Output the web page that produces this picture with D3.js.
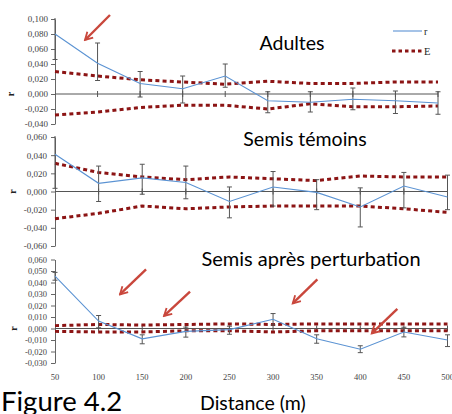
<!DOCTYPE html>
<html>
<head>
<meta charset="utf-8">
<script src="https://cdn.jsdelivr.net/npm/d3@7"></script>
<style>
  html, body { margin: 0; padding: 0; background: #fff; }
  svg { display: block; }
  .tick text { font-family: "Liberation Serif", "Times New Roman", serif; fill: #444; }
  .title { font-family: Lato, "Open Sans", sans-serif; fill: #000; }
</style>
</head>
<body>
<svg id="chart" width="452" height="414"></svg>
<script>
// Distance classes (m)
const distances = [50, 100, 150, 200, 250, 300, 350, 400, 450, 500];

// Adultes
const adultesR      = [0.080, 0.041, 0.014, 0.007, 0.024, -0.009, -0.011, -0.007, -0.009, -0.012];
const adultesBarLo  = [0.046, 0.018, -0.004, -0.012, 0.009, -0.025, -0.024, -0.021, -0.026, -0.027];
const adultesBarHi  = [0.114, 0.068, 0.030, 0.024, 0.040, 0.003, 0.003, 0.008, 0.004, 0.003];
const adultesEUp    = [0.030, 0.024, 0.019, 0.016, 0.013, 0.017, 0.014, 0.014, 0.016, 0.016];
const adultesELow   = [-0.028, -0.024, -0.018, -0.015, -0.015, -0.020, -0.013, -0.017, -0.017, -0.016];

// Semis témoins
const temoinsR      = [0.041, 0.009, 0.015, 0.010, -0.011, 0.005, -0.001, -0.017, 0.006, -0.006];
const temoinsBarLo  = [0.0035, -0.011, -0.003, -0.008, -0.029, -0.016, -0.020, -0.039, -0.018, -0.020];
const temoinsBarHi  = [0.078, 0.028, 0.030, 0.028, 0.005, 0.022, 0.013, 0.004, 0.021, 0.018];
const temoinsEUp    = [0.031, 0.021, 0.016, 0.013, 0.016, 0.014, 0.012, 0.017, 0.016, 0.016];
const temoinsELow   = [-0.030, -0.024, -0.016, -0.019, -0.017, -0.016, -0.016, -0.016, -0.019, -0.023];

// Semis après perturbation
const perturbR      = [0.0455, 0.0065, -0.009, -0.0025, -0.001, 0.008, -0.009, -0.018, -0.003, -0.010];
const perturbBarLo  = [0.042, 0.0006, -0.0133, -0.0075, -0.005, 0.003, -0.0128, -0.021, -0.0073, -0.0157];
const perturbBarHi  = [0.0488, 0.0113, -0.0055, 0.0012, 0.002, 0.013, -0.0055, -0.015, 0.0011, -0.0055];
const perturbEUp    = [0.0025, 0.0035, 0.003, 0.0035, 0.004, 0.0035, 0.004, 0.004, 0.004, 0.004];
const perturbELow   = [-0.0025, -0.003, -0.003, -0.002, -0.002, -0.003, -0.002, -0.002, -0.002, -0.002];

// Y tick values per panel
const adultesTicks = [0.10, 0.08, 0.06, 0.04, 0.02, 0, -0.02, -0.04];
const temoinsTicks = [0.06, 0.04, 0.02, 0, -0.02, -0.04, -0.06];
const perturbTicks = [0.06, 0.05, 0.04, 0.03, 0.02, 0.01, 0, -0.01, -0.02, -0.03];

// Titles
const panelTitles = ["Adultes", "Semis témoins", "Semis après perturbation"];

// Highlight arrows, [tailDistance, tailR, headDistance, headR]
const adultesArrows = [[114.6, 0.1053, 85.3, 0.072]];
const perturbArrows = [
  [154.4, 0.0515, 124.5, 0.0297],
  [204.8, 0.032, 175.0, 0.0109],
  [350.8, 0.0428, 322.6, 0.0219],
  [442.5, 0.017, 413.2, -0.0042]
];

const locale = d3.formatLocale({ decimal: ",", thousands: " ", grouping: [3], currency: ["", ""], minus: "-" });
const fmt = locale.format(".3f");

const svg = d3.select("#chart");

const defs = svg.append("defs");
defs.append("marker")
  .attr("id", "arrowhead")
  .attr("viewBox", "-10 -6 12 12")
  .attr("refX", 0).attr("refY", 0)
  .attr("markerWidth", 4.6).attr("markerHeight", 4.6)
  .attr("markerUnits", "strokeWidth")
  .attr("orient", "auto")
  .append("path")
  .attr("d", "M-8,-4.5 L0,0 L-8,4.5")
  .attr("fill", "none")
  .attr("stroke", "#c9473c")
  .attr("stroke-width", 2);

const panels = [
  { title: panelTitles[0], r: adultesR, lo: adultesBarLo, hi: adultesBarHi, eUp: adultesEUp, eLow: adultesELow,
    domain: [-0.04, 0.10], ticks: adultesTicks, yRange: [124, 19], xEnd: 438, fontSize: 9, pad: 3,
    titleX: 292, titleY: 50, titleSize: 19.5, rLabelX: 14, arrows: adultesArrows, legend: true },
  { title: panelTitles[1], r: temoinsR, lo: temoinsBarLo, hi: temoinsBarHi, eUp: temoinsEUp, eLow: temoinsELow,
    domain: [-0.06, 0.06], ticks: temoinsTicks, yRange: [246, 137], xEnd: 447.5, fontSize: 9, pad: 4,
    titleX: 305, titleY: 146, titleSize: 19.5, rLabelX: 16, arrows: [], legend: false },
  { title: panelTitles[2], r: perturbR, lo: perturbBarLo, hi: perturbBarHi, eUp: perturbEUp, eLow: perturbELow,
    domain: [-0.03, 0.06], ticks: perturbTicks, yRange: [363, 259.5], xEnd: 447.5, fontSize: 8.5, pad: 4,
    titleX: 311, titleY: 266, titleSize: 20, rLabelX: 17, arrows: perturbArrows, legend: false, xLabels: true }
];

panels.forEach((p, i) => {
  const x = d3.scaleLinear().domain([50, 500]).range([55, p.xEnd]);
  const y = d3.scaleLinear().domain(p.domain).range(p.yRange);
  const g = svg.append("g");

  const clipId = "clip" + i;
  defs.append("clipPath").attr("id", clipId)
    .append("rect")
    .attr("x", 50).attr("y", p.yRange[1] - 1)
    .attr("width", p.xEnd - 45).attr("height", p.yRange[0] - p.yRange[1] + 2);

  // Y axis
  const yAxis = d3.axisLeft(y).tickValues(p.ticks).tickFormat(fmt)
    .tickSizeInner(4).tickSizeOuter(0).tickPadding(p.pad);
  const ya = g.append("g").attr("transform", "translate(55,0)").call(yAxis);
  ya.select(".domain").attr("stroke", "#666");
  ya.selectAll(".tick line").attr("stroke", "#666");
  ya.selectAll(".tick text").attr("font-size", p.fontSize).attr("fill", "#444");

  // Y axis title
  g.append("text")
    .attr("transform", `translate(${p.rLabelX},${y(0)}) rotate(-90)`)
    .attr("text-anchor", "middle")
    .attr("font-family", "'Liberation Serif', serif")
    .attr("font-weight", "bold")
    .attr("font-size", 10)
    .attr("fill", "#222")
    .text("r");

  // Zero line with crossing ticks
  g.append("line")
    .attr("x1", x(50)).attr("x2", x(500))
    .attr("y1", y(0)).attr("y2", y(0))
    .attr("stroke", "#555").attr("stroke-width", 1);
  g.selectAll(".xtick").data(distances.slice(1)).join("line")
    .attr("class", "xtick")
    .attr("x1", d => x(d)).attr("x2", d => x(d))
    .attr("y1", y(0) - 3).attr("y2", y(0) + 3)
    .attr("stroke", "#555").attr("stroke-width", 1);

  const plot = g.append("g").attr("clip-path", `url(#${clipId})`);

  // Confidence envelope E
  const eLine = d3.line().x((d, j) => x(distances[j])).y(d => y(d));
  [p.eUp, p.eLow].forEach(arr => {
    plot.append("path")
      .datum(arr)
      .attr("d", eLine)
      .attr("fill", "none")
      .attr("stroke", "#8c1414")
      .attr("stroke-width", 3)
      .attr("stroke-dasharray", "4,3.2");
  });

  // Error bars
  const bars = plot.selectAll(".bar").data(distances.map((d, j) => ({ d, lo: p.lo[j], hi: p.hi[j] })))
    .join("g").attr("class", "bar");
  bars.append("line")
    .attr("x1", b => x(b.d)).attr("x2", b => x(b.d))
    .attr("y1", b => y(b.lo)).attr("y2", b => y(b.hi))
    .attr("stroke", "#555").attr("stroke-width", 1);
  [ "lo", "hi" ].forEach(k => {
    bars.append("line")
      .attr("x1", b => x(b.d) - 2.5).attr("x2", b => x(b.d) + 2.5)
      .attr("y1", b => y(b[k])).attr("y2", b => y(b[k]))
      .attr("stroke", "#555").attr("stroke-width", 1);
  });

  // Moran's r series
  plot.append("path")
    .datum(p.r)
    .attr("d", eLine)
    .attr("fill", "none")
    .attr("stroke", "#5b93d3")
    .attr("stroke-width", 1.1);

  // Title
  g.append("text")
    .attr("class", "title")
    .attr("x", p.titleX).attr("y", p.titleY)
    .attr("text-anchor", "middle")
    .attr("font-size", p.titleSize)
    .text(p.title);

  // Arrows
  g.selectAll(".arrow").data(p.arrows).join("line")
    .attr("class", "arrow")
    .attr("x1", a => x(a[0])).attr("y1", a => y(a[1]))
    .attr("x2", a => x(a[2])).attr("y2", a => y(a[3]))
    .attr("stroke", "#c9473c").attr("stroke-width", 2.4)
    .attr("marker-end", "url(#arrowhead)");

  // Legend
  if (p.legend) {
    const lg = g.append("g");
    lg.append("line").attr("x1", 393).attr("x2", 422).attr("y1", 31).attr("y2", 31)
      .attr("stroke", "#5b93d3").attr("stroke-width", 1.1);
    lg.append("text").attr("x", 424).attr("y", 34.5)
      .attr("font-family", "'Liberation Serif', serif").attr("font-size", 10).attr("fill", "#222").text("r");
    lg.append("line").attr("x1", 392).attr("x2", 422).attr("y1", 51).attr("y2", 51)
      .attr("stroke", "#8c1414").attr("stroke-width", 3).attr("stroke-dasharray", "3.5,3");
    lg.append("text").attr("x", 424).attr("y", 55)
      .attr("font-family", "'Liberation Serif', serif").attr("font-size", 10.5).attr("fill", "#222").text("E");
  }

  // Distance labels under the bottom panel
  if (p.xLabels) {
    g.selectAll(".xlab").data(distances).join("text")
      .attr("class", "xlab")
      .attr("x", d => x(d)).attr("y", 380)
      .attr("text-anchor", "middle")
      .attr("font-family", "'Liberation Serif', serif")
      .attr("font-size", 8.5)
      .attr("fill", "#444")
      .text(d => d);
  }
});

// Figure caption and axis name
svg.append("text").attr("class", "title")
  .attr("x", 1).attr("y", 411)
  .attr("font-size", 27.5)
  .text("Figure 4.2");
svg.append("text").attr("class", "title")
  .attr("x", 200).attr("y", 410)
  .attr("font-size", 19.5)
  .text("Distance (m)");
</script>
</body>
</html>
